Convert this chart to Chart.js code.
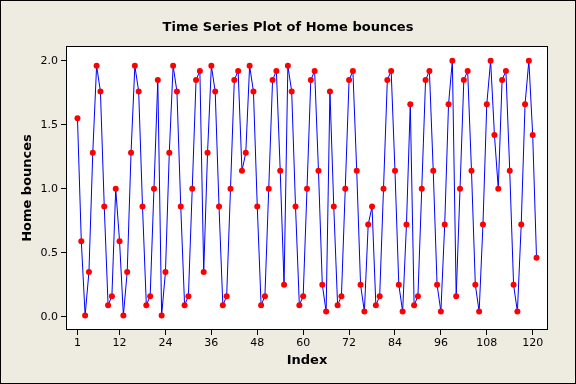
<!DOCTYPE html>
<html>
<head>
<meta charset="utf-8">
<script src="https://cdn.jsdelivr.net/npm/chart.js@4/dist/chart.umd.min.js"></script>
<style>
html, body { margin: 0; padding: 0; background: #EEEBE1; }
#wrap { width: 576px; height: 384px; }
</style>
</head>
<body>
<div id="wrap"><canvas id="bouncesChart" width="576" height="384"></canvas></div>
<script>
const homeBounces = [
    1.55, 0.59, 0.01, 0.35, 1.28, 1.96, 1.76, 0.86, 0.09, 0.16,
    1.00, 0.59, 0.01, 0.35, 1.28, 1.96, 1.76, 0.86, 0.09, 0.16,
    1.00, 1.85, 0.01, 0.35, 1.28, 1.96, 1.76, 0.86, 0.09, 0.16,
    1.00, 1.85, 1.92, 0.35, 1.28, 1.96, 1.76, 0.86, 0.09, 0.16,
    1.00, 1.85, 1.92, 1.14, 1.28, 1.96, 1.76, 0.86, 0.09, 0.16,
    1.00, 1.85, 1.92, 1.14, 0.25, 1.96, 1.76, 0.86, 0.09, 0.16,
    1.00, 1.85, 1.92, 1.14, 0.25, 0.04, 1.76, 0.86, 0.09, 0.16,
    1.00, 1.85, 1.92, 1.14, 0.25, 0.04, 0.72, 0.86, 0.09, 0.16,
    1.00, 1.85, 1.92, 1.14, 0.25, 0.04, 0.72, 1.66, 0.09, 0.16,
    1.00, 1.85, 1.92, 1.14, 0.25, 0.04, 0.72, 1.66, 2.00, 0.16,
    1.00, 1.85, 1.92, 1.14, 0.25, 0.04, 0.72, 1.66, 2.00, 1.42,
    1.00, 1.85, 1.92, 1.14, 0.25, 0.04, 0.72, 1.66, 2.00, 1.42,
    0.46
];
const indexTicks = [1, 12, 24, 36, 48, 60, 72, 84, 96, 108, 120];
const bounceTicks = [0, 0.5, 1, 1.5, 2];
const chartTitle = 'Time Series Plot of Home bounces';

const bgColor = '#EEEBE1';
const tickFont = { family: 'DejaVu Sans', size: 11 };
const titleFont = { family: 'DejaVu Sans', size: 13, weight: 'bold' };

// background, outer border, plot frame and the centred title
const framePlugin = {
    id: 'frame',
    beforeDraw(chart) {
        const { ctx, chartArea } = chart;
        ctx.save();
        ctx.fillStyle = bgColor;
        ctx.fillRect(0, 0, chart.width, chart.height);
        ctx.fillStyle = '#ffffff';
        ctx.fillRect(chartArea.left, chartArea.top, chartArea.right - chartArea.left, chartArea.bottom - chartArea.top);
        ctx.restore();
    },
    afterDraw(chart) {
        const { ctx, chartArea } = chart;
        ctx.save();
        ctx.strokeStyle = '#000000';
        ctx.lineWidth = 1;
        ctx.strokeRect(0.5, 0.5, chart.width - 1, chart.height - 1);
        ctx.strokeRect(chartArea.left + 0.5, chartArea.top + 0.5, chartArea.right - chartArea.left - 1, chartArea.bottom - chartArea.top - 1);
        ctx.fillStyle = '#000000';
        ctx.font = 'bold 13px "DejaVu Sans"';
        ctx.textAlign = 'center';
        ctx.textBaseline = 'middle';
        ctx.fillText(chartTitle, chart.width / 2, 28);
        ctx.restore();
    }
};

function createChart() {
    const chartElement = document.getElementById('bouncesChart').getContext('2d');

    new Chart(chartElement, {
        type: 'line',
        data: {
            datasets: [
                {
                    label: 'Home bounces',
                    data: homeBounces.map((value, i) => ({ x: i + 1, y: value })),
                    borderColor: '#0000FF',
                    borderWidth: 1,
                    pointRadius: 3,
                    pointBackgroundColor: '#FF0000',
                    pointBorderWidth: 0,
                    tension: 0,
                },
            ],
        },
        options: {
            responsive: false,
            animation: false,
            devicePixelRatio: 1,
            layout: {
                padding: { top: 46, right: 28, bottom: 0, left: 0 },
            },
            plugins: {
                legend: { display: false },
                tooltip: { enabled: false },
                title: { display: false },
            },
            scales: {
                x: {
                    type: 'linear',
                    min: -2,
                    max: 124,
                    afterBuildTicks: scale => {
                        scale.ticks = indexTicks.map(v => ({ value: v }));
                    },
                    afterFit: scale => {
                        scale.height = 54;
                    },
                    ticks: {
                        color: '#000000',
                        font: tickFont,
                        padding: 2,
                        maxRotation: 0,
                        callback: value => String(value),
                    },
                    grid: {
                        drawOnChartArea: false,
                        drawTicks: true,
                        tickLength: 5,
                        color: '#000000',
                    },
                    border: { display: false },
                    title: {
                        display: true,
                        text: 'Index',
                        color: '#000000',
                        font: titleFont,
                        padding: { top: 0, bottom: 16 },
                    },
                },
                y: {
                    min: -0.104,
                    max: 2.115,
                    afterBuildTicks: scale => {
                        scale.ticks = bounceTicks.map(v => ({ value: v }));
                    },
                    afterFit: scale => {
                        scale.width = 66;
                    },
                    ticks: {
                        color: '#000000',
                        font: tickFont,
                        padding: 3,
                        callback: value => value.toFixed(1),
                    },
                    grid: {
                        drawOnChartArea: false,
                        drawTicks: true,
                        tickLength: 5,
                        color: '#000000',
                    },
                    border: { display: false },
                    title: {
                        display: true,
                        text: 'Home bounces',
                        color: '#000000',
                        font: titleFont,
                        padding: { top: 20, bottom: 0 },
                    },
                },
            },
        },
        plugins: [framePlugin],
    });
}

createChart();
</script>
</body>
</html>
